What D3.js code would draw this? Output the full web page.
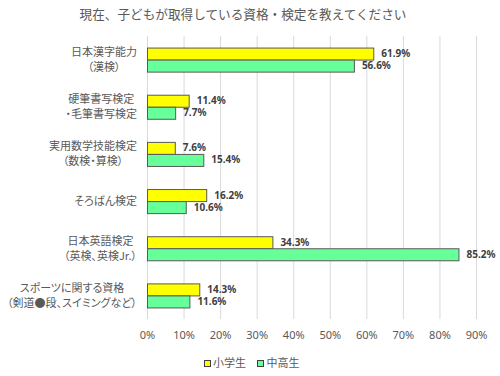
<!DOCTYPE html>
<html><head><meta charset="utf-8">
<script src="https://cdn.jsdelivr.net/npm/d3@7"></script>
<style>body{margin:0;background:#fff}svg{display:block}.pl{font-feature-settings:"palt" 1}</style>
</head><body>
<script>
const title = "現在、子どもが取得している資格・検定を教えてください";
const categories = [
  ["日本漢字能力","（漢検）"],
  ["硬筆書写検定","・毛筆書写検定"],
  ["実用数学技能検定","（数検・算検）"],
  ["そろばん検定"],
  ["日本英語検定","（英検、英検Jr.）"],
  ["スポーツに関する資格","（剣道●段、スイミングなど）"]
];
const seriesNames = ["小学生","中高生"];
const elementary = [61.9, 11.4, 7.6, 16.2, 34.3, 14.3];
const secondary = [56.6, 7.7, 15.4, 10.6, 85.2, 11.6];
const ticks = [0,10,20,30,40,50,60,70,80,90];
const colors = ["#FFFF00","#66FF99"];

(function(){
const W = 500, H = 376;
const svg = d3.select("body").append("svg").attr("width", W).attr("height", H);
const pL = 147, pR = 476, pT = 36, pB = 319;
const x = d3.scaleLinear().domain([0, 90]).range([pL, pR]);
const idx = d3.range(categories.length);
const y = d3.scaleBand().domain(idx).range([pT, pB]).paddingInner(0.49).paddingOuter(0.245);
const ys = d3.scaleBand().domain([0,1]).range([0, y.bandwidth()]);
const jp = "'Noto Sans CJK JP','Noto Sans',sans-serif";

const tt = svg.append("text").attr("x", 243).attr("y", 19).attr("text-anchor","middle")
  .attr("font-family", jp).attr("font-size", 13).attr("fill","#595959").text(title);
if (tt.node().getComputedTextLength() > 327) tt.attr("textLength", 327).attr("lengthAdjust","spacingAndGlyphs");

svg.append("g").selectAll("line").data(ticks).join("line")
  .attr("x1", d=>x(d)+0.5).attr("x2", d=>x(d)+0.5).attr("y1", pT).attr("y2", pB)
  .attr("stroke","#d9d9d9").attr("stroke-width",1);

const ax = svg.append("g").attr("transform", `translate(0,${pB})`)
  .call(d3.axisBottom(x).tickValues(ticks).tickFormat(d=>d+"%").tickSize(0).tickPadding(12));
ax.select(".domain").remove();
ax.selectAll("text").attr("font-family","'Noto Sans',sans-serif").attr("font-size",11).attr("fill","#595959");

const series = [elementary, secondary];
series.forEach((vals, s) => {
  const g = svg.append("g");
  g.selectAll("rect").data(vals).join("rect")
    .attr("x", x(0)+0.5).attr("y", (d,i)=>y(i)+ys(s)+0.5)
    .attr("width", d=>x(d)-x(0)).attr("height", ys.bandwidth())
    .attr("fill", colors[s]).attr("stroke","#595959").attr("stroke-width",1);
  g.selectAll("text").data(vals).join("text")
    .attr("x", d=>x(d)+8).attr("y", (d,i)=>y(i)+ys(s)+ys.bandwidth()/2)
    .attr("dy","0.35em").attr("font-family","'Noto Sans',sans-serif").attr("font-weight","bold")
    .attr("font-size",10).attr("fill","#404040").text(d=>d.toFixed(1)+"%");
});

categories.forEach((lines, i) => {
  const g = svg.append("g");
  const cy = y(i) + y.bandwidth()/2;
  const ts = lines.map((l, k) => g.append("text").attr("class","pl")
    .attr("y", cy + (k - (lines.length-1)/2)*15).attr("dy","0.35em")
    .attr("text-anchor","middle").attr("font-family", jp).attr("font-size",11)
    .attr("fill","#595959").text(l));
  ts.forEach(t => {
    if (t.node().getComputedTextLength() > 134) t.attr("textLength", 134).attr("lengthAdjust","spacingAndGlyphs");
  });
  const maxW = Math.min(134, d3.max(ts, t => t.node().getComputedTextLength()));
  ts.forEach(t => t.attr("x", 137 - maxW/2));
});

const lg = [{x:204, tx:213},{x:257, tx:266.5}];
seriesNames.forEach((n, s) => {
  svg.append("rect").attr("x", lg[s].x+0.5).attr("y", 360.5).attr("width",6).attr("height",6)
    .attr("fill", colors[s]).attr("stroke","#404040").attr("stroke-width",1);
  svg.append("text").attr("x", lg[s].tx).attr("y", 363.5).attr("dy","0.35em")
    .attr("font-family", jp).attr("font-size",11).attr("fill","#595959").text(n);
});
})();
</script>
</body></html>
